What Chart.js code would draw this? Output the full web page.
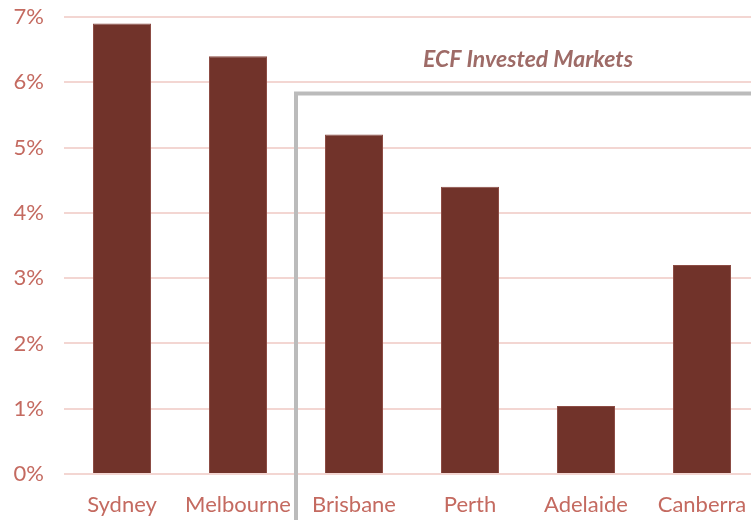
<!DOCTYPE html>
<html>
<head>
<meta charset="utf-8">
<script src="https://cdn.jsdelivr.net/npm/chart.js@4"></script>
<style>
  html, body { margin: 0; padding: 0; background: #fff; overflow: hidden; }
  #wrap { width: 760px; height: 520px; }
</style>
</head>
<body>
<div id="wrap"><canvas id="c" width="760" height="520"></canvas></div>
<script>
// city growth figures (%)
const cities = ['Sydney', 'Melbourne', 'Brisbane', 'Perth', 'Adelaide', 'Canberra'];
const growth = [6.9, 6.4, 5.2, 4.4, 1.04, 3.2];
const yTicks = [0, 1, 2, 3, 4, 5, 6, 7];

const boxLabel = 'ECF Invested Markets';
const investedFrom = 2; // Brisbane onwards
const boxTopValue = 5.83;
const labelValue = 6.35;

const tickColor = '#C46A60';
const gridColor = '#F3D6D2';
const barColor = '#71332A';

// grey frame around the invested markets + its italic title
const marketBox = {
  id: 'marketBox',
  afterDatasetsDraw(chart) {
    const { ctx, scales: { x, y } } = chart;
    const left = (x.getPixelForValue(investedFrom - 1) + x.getPixelForValue(investedFrom)) / 2;
    const top = y.getPixelForValue(boxTopValue);
    ctx.save();
    ctx.strokeStyle = '#BBBBBB';
    ctx.lineWidth = 4;
    ctx.beginPath();
    ctx.moveTo(left, chart.height + 10);
    ctx.lineTo(left, top);
    ctx.lineTo(chart.width + 10, top);
    ctx.stroke();

    const mid = (x.getPixelForValue(investedFrom) + x.getPixelForValue(cities.length - 1)) / 2;
    ctx.fillStyle = '#9E6B67';
    ctx.font = 'italic bold 23px Lato';
    ctx.textAlign = 'center';
    ctx.textBaseline = 'middle';
    ctx.fillText(boxLabel, mid, y.getPixelForValue(labelValue));
    ctx.restore();
  }
};

new Chart(document.getElementById('c').getContext('2d'), {
  type: 'bar',
  data: {
    labels: cities,
    datasets: [{
      data: growth,
      backgroundColor: barColor,
      borderColor: '#8C4C44',
      borderWidth: 1,
      barPercentage: 0.5,
      categoryPercentage: 1
    }]
  },
  options: {
    responsive: false,
    animation: false,
    layout: { padding: { left: 10, right: 0, top: 17, bottom: 0 } },
    plugins: { legend: { display: false }, tooltip: { enabled: false } },
    scales: {
      x: {
        grid: { display: false, drawTicks: false },
        border: { display: false },
        ticks: { color: tickColor, font: { family: 'Lato', size: 22 }, padding: 18, maxRotation: 0, autoSkip: false },
        afterFit(axis) { axis.paddingLeft = 0; axis.paddingRight = 0; axis.height = 46; }
      },
      y: {
        min: yTicks[0],
        max: yTicks[yTicks.length - 1],
        afterBuildTicks(axis) { axis.ticks = yTicks.map(v => ({ value: v })); },
        grid: { color: gridColor, lineWidth: 2, drawTicks: false },
        border: { display: false },
        ticks: { color: tickColor, font: { family: 'Lato', size: 22 }, padding: 20, callback: v => v + '%' },
        afterFit(axis) { axis.width = 54; axis.paddingTop = 0; axis.paddingBottom = 0; }
      }
    }
  },
  plugins: [marketBox]
});
</script>
</body>
</html>
